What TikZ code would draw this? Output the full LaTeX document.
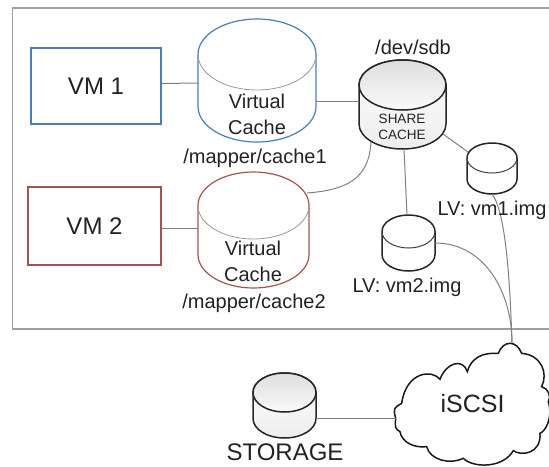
\documentclass[tikz,border=0pt]{standalone}
\usepackage{fontspec}
\setmainfont{Liberation Sans}
\usetikzlibrary{calc}
\definecolor{vmblue}{HTML}{4A7EBB}
\definecolor{vmred}{HTML}{A5524F}
\definecolor{ink}{HTML}{222222}
\definecolor{wire}{HTML}{808080}
\newcommand{\cylshape}[7]{% name, cx, rx, top, rimbottom, bottom, style
  \pgfmathsetmacro{\cyry}{(#5-#4)/2}
  \pgfmathsetmacro{\cyc}{(#4+#5)/2}
  \pgfmathsetmacro{\cyb}{#6-\cyry}
  \pgfmathsetmacro{\cyw}{2*#3}
  \pgfmathsetmacro{\cyh}{#6-#4}
  \pgfmathsetmacro{\cym}{(#4+#6)/2}
  \path[#7] ({#2-#3},\cyc) -- ({#2-#3},\cyb)
     arc[start angle=180,end angle=360,x radius=#3pt,y radius=\cyry pt]
     -- ({#2+#3},\cyc)
     arc[start angle=0,end angle=180,x radius=#3pt,y radius=\cyry pt] -- cycle;
  \node[anchor=center,minimum width=\cyw pt,minimum height=\cyh pt,inner sep=0pt,outer sep=0pt] (#1) at (#2,\cym) {};
}
\newcommand{\cyltop}[5]{% cx, rx, top, rimbottom, style
  \pgfmathsetmacro{\cyry}{(#4-#3)/2}
  \pgfmathsetmacro{\cyc}{(#3+#4)/2}
  \path[#5] (#1,\cyc) ellipse [x radius=#2pt,y radius=\cyry pt];
}
\newcommand{\cylrim}[5]{% cx, rx, top, rimbottom, style
  \pgfmathsetmacro{\cyry}{(#4-#3)/2}
  \pgfmathsetmacro{\cyc}{(#3+#4)/2}
  \draw[#5] ({#1-#2},\cyc) arc[start angle=180,end angle=360,x radius=#2pt,y radius=\cyry pt];
}
\tikzset{
  frameline/.style={draw=gray!75,line width=1.3pt},
  vmbox/.style={draw,line width=1.8pt,inner sep=0pt,text=ink,font=\fontsize{24}{28}\selectfont},
  wireline/.style={draw=wire,line width=1pt},
  lbl/.style={text=ink,inner sep=0pt,align=center,font=\fontsize{20}{26}\selectfont},
  bluecyl/.style={draw=vmblue,line width=1.2pt,fill=white},
  redcyl/.style={draw=vmred,line width=1.2pt,fill=white},
  blackcyl/.style={draw=black!85,line width=1.5pt,fill=white},
  greybody/.style={draw=black!85,line width=1.5pt,top color=white,bottom color=gray!14},
  greytop/.style={top color=gray!26,bottom color=gray!4,draw=black!85,line width=1.5pt},
  rimgrey/.style={draw=gray!80,line width=.8pt},
  rimdark/.style={draw=black!75,line width=1pt},
  cloudline/.style={draw=black!90,line width=1.5pt,fill=white},
}
\begin{document}
\begin{tikzpicture}[x=1pt,y=-1pt]
\useasboundingbox (0,0) rectangle (549,466);
\draw[frameline] (549,8) -- (12.5,8) -- (12.5,329) -- (549,329);
% cylinders
\cylshape{cyla}{257}{59}{19}{90}{142}{bluecyl}
\cylrim{257}{59}{19}{90}{rimgrey}
\cylshape{cylb}{253.5}{55.5}{172}{239}{288}{redcyl}
\cylrim{253.5}{55.5}{172}{239}{rimgrey}
\cylshape{share}{402.5}{43.5}{60}{110}{149}{greybody}
\cyltop{402.5}{43.5}{60}{110}{greytop}
\cylshape{lva}{492}{25}{143}{173}{194}{blackcyl}
\cylrim{492}{25}{143}{173}{rimdark}
\cylshape{lvb}{408.5}{26.5}{215}{248}{271}{blackcyl}
\cylrim{408.5}{26.5}{215}{248}{rimdark}
\cylshape{stor}{284.5}{31.5}{373}{412}{438}{greybody}
\cyltop{284.5}{31.5}{373}{412}{greytop}
% boxes
\node[vmbox,draw=vmblue,minimum width=130pt,minimum height=76pt] (vma) at (96,86) {VM 1};
\node[vmbox,draw=vmred,minimum width=133pt,minimum height=78pt] (vmb) at (94.5,226) {VM 2};
% cloud
\begin{scope}[shift={(220,290)},x=.3333pt,y=-.3333pt]
\draw[cloudline] (527,385)
  .. controls (520,355) .. (545,340)
  .. controls (560,240) and (640,240) .. (660,268)
  .. controls (680,215) and (730,205) .. (742,245)
  .. controls (760,185) and (815,190) .. (835,190)
  .. controls (850,150) and (890,150) .. (905,190)
  .. controls (965,195) and (985,250) .. (965,290)
  .. controls (985,295) and (995,320) .. (985,335)
  .. controls (1000,385) and (975,425) .. (960,430)
  .. controls (965,490) and (905,500) .. (880,482)
  .. controls (850,535) and (760,535) .. (730,505)
  .. controls (690,525) and (630,510) .. (620,470)
  .. controls (580,475) and (545,455) .. (540,425)
  .. controls (525,415) .. (527,385) -- cycle;
\end{scope}
\node[minimum width=153pt,minimum height=122pt,inner sep=0pt,text=ink,font=\fontsize{25}{30}\selectfont] (cloud) at (472.5,404) {iSCSI};
% connectors
\draw[wireline] ([yshift=2.5pt]vma.east) -- ([yshift=-2.5pt]cyla.west);
\draw[wireline] ([yshift=-2pt]vmb.east) -- (cylb.west |- {0,228});
\draw[wireline] ([yshift=-20.5pt]cyla.east) -- ([yshift=3.5pt]share.west);
\draw[wireline] ([xshift=-31.5pt,yshift=7pt]share.south) .. controls +(-2pt,-38pt) and +(38pt,3pt) .. ([xshift=53.5pt,yshift=-21pt]cylb.north);
\draw[wireline] ([xshift=1.5pt]share.south) -- ([xshift=-1.5pt]lvb.north);
\draw[wireline] ([xshift=40.5pt,yshift=15pt]share.south) -- ([xshift=-24pt,yshift=-9pt]lva.north);
\draw[wireline] (lva.south) .. controls +(14pt,-18pt) and +(-2pt,60pt) .. ([xshift=39.5pt]cloud.north);
\draw[wireline] (lvb.east |- {0,243}) .. controls +(50pt,0pt) and +(0pt,50pt) .. ([xshift=39.5pt]cloud.north);
\draw[wireline] ([yshift=-12.5pt]stor.east) -- ([yshift=-14pt]cloud.west);
% labels
\node[lbl] (ta) at (257,114) {Virtual\\Cache};
\node[lbl] (tb) at (253,261) {Virtual\\Cache};
\node[lbl] (ma) at (255,158) {/mapper/cache1};
\node[lbl] (mb) at (254,303) {/mapper/cache2};
\node[lbl] (dev) at (413,47) {/dev/sdb};
\node[lbl,font=\fontsize{13.5}{16}\selectfont] (sc) at (402,127) {SHARE\\CACHE};
\node[lbl] (la) at (492,210) {LV: vm1.img};
\node[lbl] (lb) at (407,287) {LV: vm2.img};
\node[lbl,font=\fontsize{24}{28}\selectfont] (st) at (285,452.5) {STORAGE};
\end{tikzpicture}
\end{document}
